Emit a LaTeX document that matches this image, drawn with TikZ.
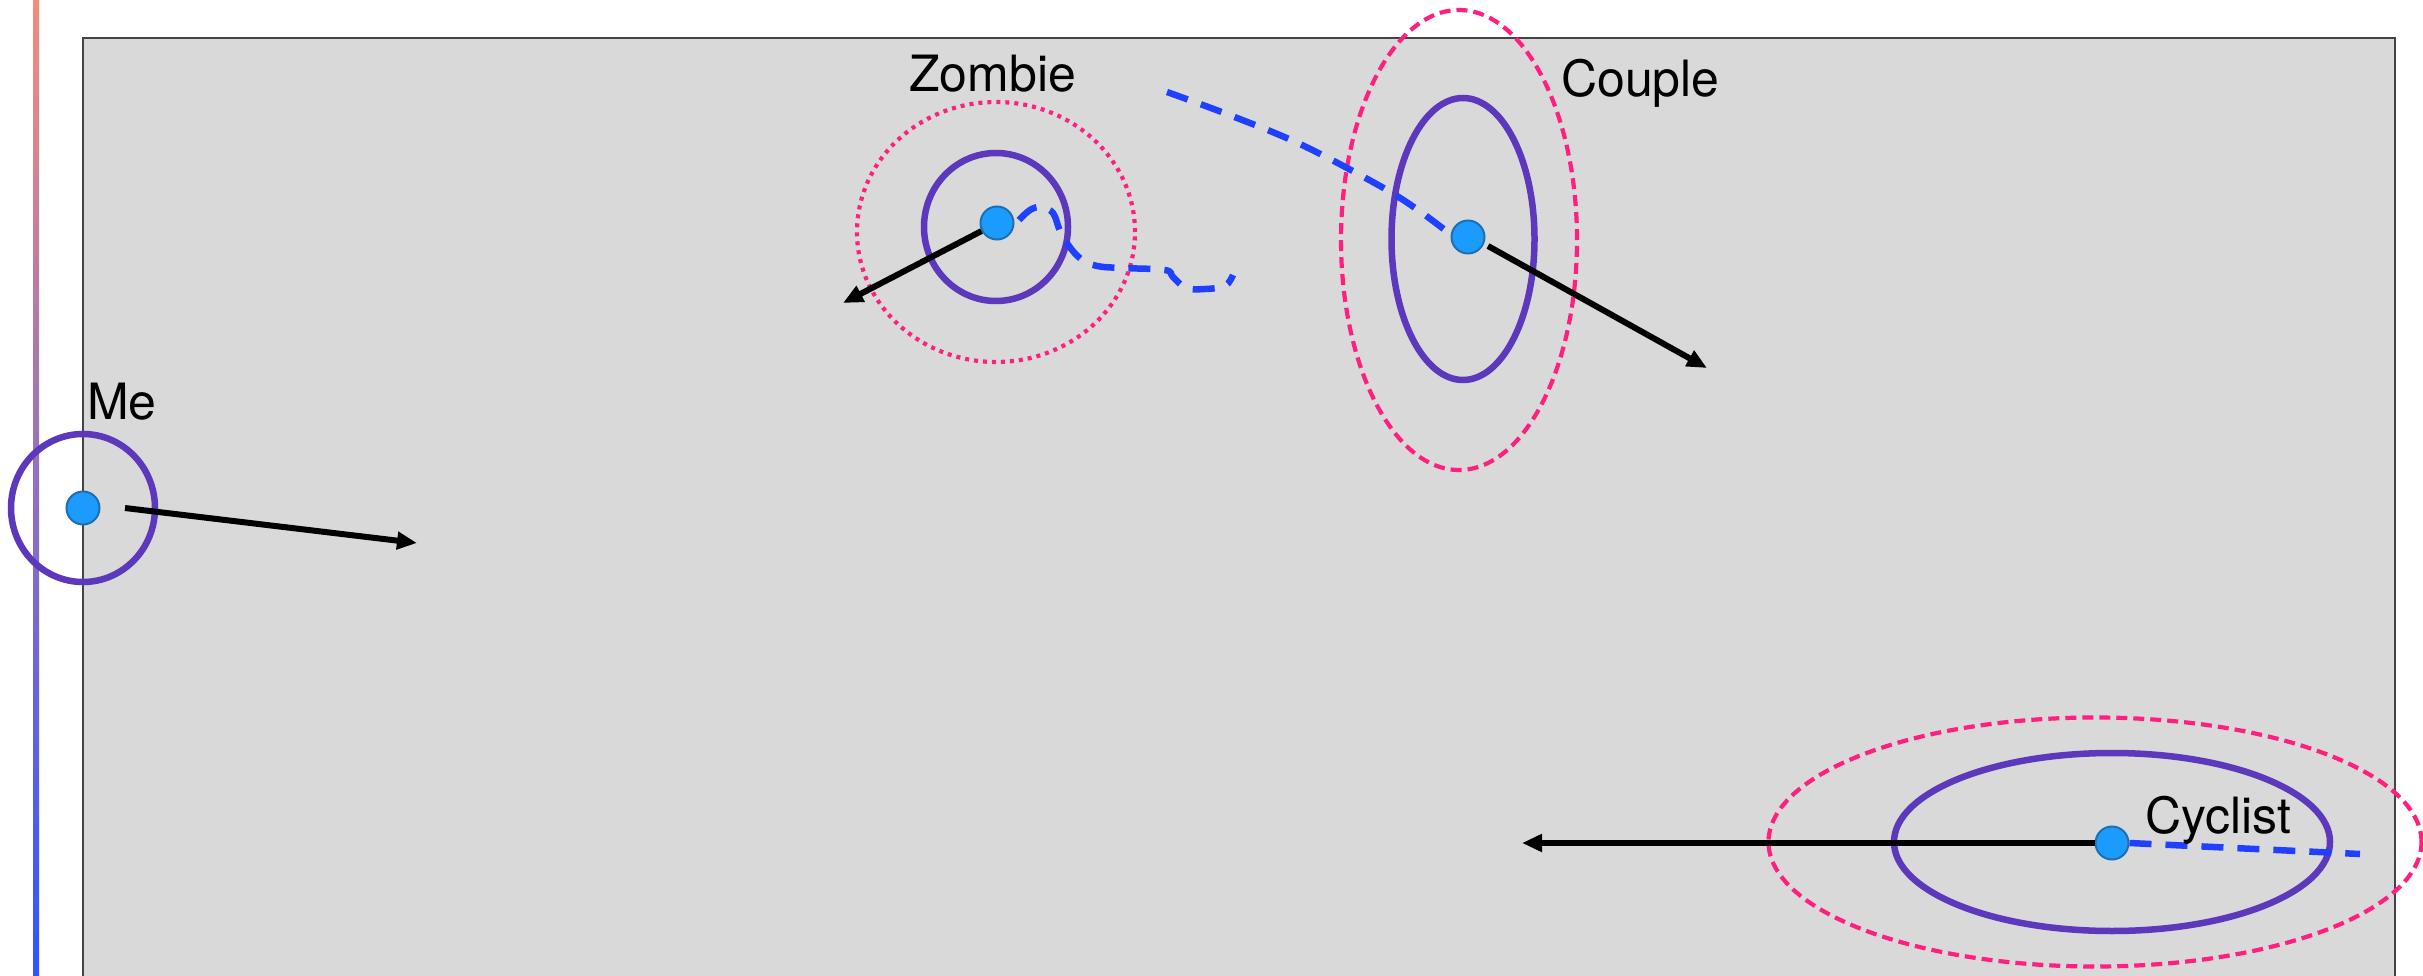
\documentclass[tikz,border=0pt]{standalone}
\usepackage{fontspec}
\setmainfont{TeX Gyre Heros}
\usetikzlibrary{arrows.meta,shapes.geometric}
\definecolor{bggray}{HTML}{D9D9D9}
\definecolor{edgegray}{HTML}{444444}
\definecolor{ringpurple}{HTML}{5C38BC}
\definecolor{zonepink}{HTML}{FF1F7E}
\definecolor{trailblue}{HTML}{2040FF}
\definecolor{dotblue}{HTML}{1C9BFF}
\definecolor{dotedge}{HTML}{1D6FB3}
\definecolor{gradtop}{HTML}{F48C7C}
\definecolor{gradmid}{HTML}{AC78DE}
\definecolor{gradbot}{HTML}{2F55FF}
\tikzset{
  agent/.style={circle, fill=dotblue, draw=dotedge, line width=2pt, minimum size=33pt, inner sep=0pt},
  ring/.style={ellipse, draw=ringpurple, line width=6.5pt, inner sep=0pt},
  zonedash/.style={ellipse, draw=zonepink, line width=4.2pt, dash pattern=on 11pt off 6pt, inner sep=0pt},
  zonedot/.style={ellipse, draw=zonepink, line width=4.2pt, dash pattern=on 4pt off 5pt, inner sep=0pt},
  heading/.style={-{Triangle[length=20pt,width=17pt]}, line width=6pt, black},
  trail/.style={draw=trailblue, line width=6.5pt, dash pattern=on 22pt off 14pt},
  lbl/.style={anchor=base west, inner sep=0pt, font=\fontsize{50}{60}\selectfont}
}
\begin{document}
\begin{tikzpicture}[x=1pt,y=-1pt]
\clip (0,0) rectangle (2423,976);
\fill[white] (0,0) rectangle (2423,976);
% gradient bar
\shade[top color=gradtop, middle color=gradmid, bottom color=gradbot] (33,0) rectangle (39,976);
% field
\draw[fill=bggray, draw=edgegray, line width=2pt] (83,38) rectangle (2395,1000);

% ---- Me
\node[ring, minimum width=144pt, minimum height=148pt] (mering) at (83,508) {};
\node[agent] (me) at (83,508) {};
\node[lbl] (melbl) at (87,419) {Me};
\coordinate (mestart) at (125,508);
\coordinate (meend) at (417,543);
\draw[heading] (mestart) -- (meend);

% ---- Zombie
\node[zonedot, minimum width=278pt, minimum height=260pt] (zzone) at (996,232) {};
\node[ring, minimum width=144pt, minimum height=148pt] (zring) at (996,227) {};
\draw[trail] plot[smooth, tension=0.6] coordinates {(1019,220) (1030,210) (1041,207) (1053,213) (1060,231) (1069,246) (1081,259) (1097,266) (1122,268) (1165,270) (1173,277) (1186,288) (1205,289) (1225,286) (1233,275)};
\node[agent] (zombie) at (997,223) {};
\node[lbl] (zlbl) at (909,92) {Zombie};
\coordinate (zend) at (843,303);
\draw[heading] (zombie) -- (zend);

% ---- Couple
\node[zonedash, minimum width=236pt, minimum height=460pt] (czone) at (1459,240) {};
\node[ring, minimum width=143pt, minimum height=282pt] (cring) at (1463,239) {};
\draw[trail] plot[smooth, tension=0.6] coordinates {(1167,92) (1232,116) (1302,145) (1380,186) (1418,210) (1450,234)};
\node[agent] (couple) at (1468,237) {};
\node[lbl] (clbl) at (1561,97) {Couple};
\coordinate (cstart) at (1488,246);
\coordinate (cend) at (1707,368);
\draw[heading] (cstart) -- (cend);

% ---- Cyclist
\node[zonedash, minimum width=653pt, minimum height=249pt] (yzone) at (2095,842) {};
\node[ring, minimum width=436pt, minimum height=178pt] (yring) at (2112,842) {};
\coordinate (ytrailend) at (2360,854);
\node[agent] (cyclist) at (2112,843) {};
\draw[trail] (cyclist.east) -- (ytrailend);
\node[lbl] (ylbl) at (2145,833) {Cyclist};
\coordinate (yend) at (1522,843);
\draw[heading] (cyclist) -- (yend);
\end{tikzpicture}
\end{document}
